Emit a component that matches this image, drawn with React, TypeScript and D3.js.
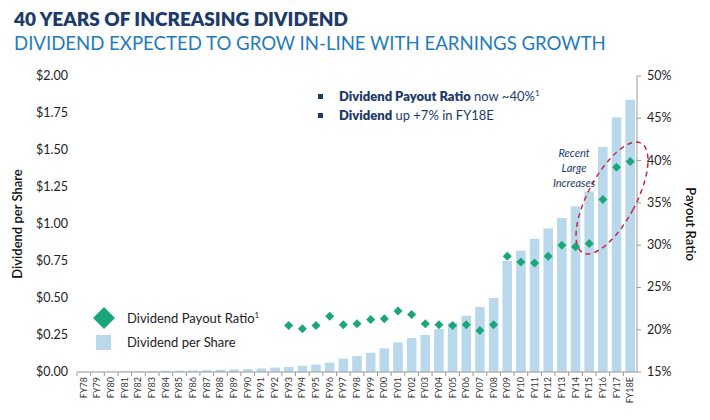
import React from "react";
import * as d3 from "d3";

const years = ["FY78","FY79","FY80","FY81","FY82","FY83","FY84","FY85","FY86","FY87","FY88","FY89","FY90","FY91","FY92","FY93","FY94","FY95","FY96","FY97","FY98","FY99","FY00","FY01","FY02","FY03","FY04","FY05","FY06","FY07","FY08","FY09","FY10","FY11","FY12","FY13","FY14","FY15","FY16","FY17","FY18E"];
const dividend = [0.002,0.002,0.003,0.004,0.005,0.006,0.008,0.009,0.01,0.012,0.015,0.017,0.02,0.024,0.03,0.034,0.042,0.05,0.063,0.09,0.108,0.13,0.16,0.2,0.23,0.25,0.29,0.33,0.38,0.44,0.5,0.75,0.82,0.9,0.97,1.04,1.12,1.22,1.52,1.72,1.84];
const payoutYears = ["FY93","FY94","FY95","FY96","FY97","FY98","FY99","FY00","FY01","FY02","FY03","FY04","FY05","FY06","FY07","FY08","FY09","FY10","FY11","FY12","FY13","FY14","FY15","FY16","FY17","FY18E"];
const payout = [20.5,20.1,20.5,21.6,20.6,20.7,21.2,21.3,22.2,21.8,20.7,20.6,20.5,20.6,19.9,20.6,28.7,28.0,27.9,28.7,30.0,29.8,30.2,35.4,39.2,39.9];
const leftTicks = [0,0.25,0.5,0.75,1,1.25,1.5,1.75,2];
const rightTicks = [15,20,25,30,35,40,45,50];

const NAVY = "#1d3a6b", BLUE = "#1f7bbf", BAR = "#b9d8ec", GREEN = "#1aa57a";

export default function App() {
  const L = 77, R = 637, T = 76, B = 372;
  const x = d3.scaleBand().domain(years).range([L, R]).paddingInner(0.3).paddingOuter(0.15);
  const y = d3.scaleLinear().domain([0, 2]).range([B, T]);
  const y2 = d3.scaleLinear().domain([15, 50]).range([B, T]);
  const dia = (cx: number, cy: number, r: number) => `M${cx},${cy - r}L${cx + r},${cy}L${cx},${cy + r}L${cx - r},${cy}Z`;
  const font = "Lato, 'Open Sans', sans-serif";
  return (
    <svg width={710} height={420} style={{ position: "absolute", left: 0, top: 0, fontFamily: font }}>
      <rect width={710} height={420} fill="#fff" />
      <text x={14} y={26} fontSize={19} fontWeight={800} fill={NAVY}>40 YEARS OF INCREASING DIVIDEND</text>
      <text x={14} y={50} fontSize={18.6} fill={BLUE}>DIVIDEND EXPECTED TO GROW IN-LINE WITH EARNINGS GROWTH</text>
      {years.map((yr, i) => (
        <rect key={yr} x={x(yr)} y={y(dividend[i])} width={x.bandwidth()} height={B - y(dividend[i])} fill={BAR} />
      ))}
      <line x1={L} x2={R} y1={B} y2={B} stroke="#999" />
      {years.map(yr => (
        <g key={yr}>
          <line x1={x(yr)! + x.bandwidth() / 2 - x.step() / 2} x2={x(yr)! + x.bandwidth() / 2 - x.step() / 2} y1={B} y2={B + 4} stroke="#999" />
          <text transform={`translate(${x(yr)! + x.bandwidth() / 2 + 3},${B + 5}) rotate(-90)`} textAnchor="end" fontSize={9} fill="#333">{yr}</text>
        </g>
      ))}
      {leftTicks.map(t => (
        <text key={t} x={68} y={y(t) + 4} textAnchor="end" fontSize={12.5} fill="#222">{d3.format("$.2f")(t)}</text>
      ))}
      <line x1={R} x2={R} y1={T} y2={B} stroke="#999" />
      {rightTicks.map(t => (
        <g key={t}>
          <line x1={R} x2={R + 4} y1={y2(t)} y2={y2(t)} stroke="#999" />
          <text x={647} y={y2(t) + 4} fontSize={12.5} fill="#222">{t}%</text>
        </g>
      ))}
      <text transform={`translate(22,${(T + B) / 2}) rotate(-90)`} textAnchor="middle" fontSize={13} fontWeight={600} fill="#111">Dividend per Share</text>
      <text transform={`translate(686,${(T + B) / 2}) rotate(90)`} textAnchor="middle" fontSize={13} fontWeight={600} fill="#111">Payout Ratio</text>
      {payoutYears.map((yr, i) => (
        <path key={yr} d={dia(x(yr)! + x.bandwidth() / 2, y2(payout[i]), 4.5)} fill={GREEN} />
      ))}
      <ellipse cx={0} cy={0} rx={24} ry={62} transform="translate(612,198) rotate(28)" fill="none" stroke="#c8283c" strokeWidth={1.5} strokeDasharray="5,4" />
      {["Recent", "Large", "Increases"].map((s, i) => (
        <text key={s} x={574} y={157 + i * 15} textAnchor="middle" fontSize={11} fontStyle="italic" fill={NAVY}>{s}</text>
      ))}
      <rect x={318} y={94} width={5} height={5} fill={NAVY} />
      <text x={339} y={101} fontSize={13} fill={NAVY}><tspan fontWeight={800}>Dividend Payout Ratio</tspan> now ~40%<tspan fontSize={8} dy={-5}>1</tspan></text>
      <rect x={318} y={113} width={5} height={5} fill={NAVY} />
      <text x={339} y={120} fontSize={13} fill={NAVY}><tspan fontWeight={800}>Dividend</tspan> up +7% in FY18E</text>
      <path d={dia(104, 318, 11)} fill={GREEN} />
      <text x={127} y={323} fontSize={13} fill="#222">Dividend Payout Ratio<tspan fontSize={8} dy={-5}>1</tspan></text>
      <rect x={96} y={335} width={15} height={15} fill={BAR} />
      <text x={127} y={347} fontSize={13} fill="#222">Dividend per Share</text>
    </svg>
  );
}
